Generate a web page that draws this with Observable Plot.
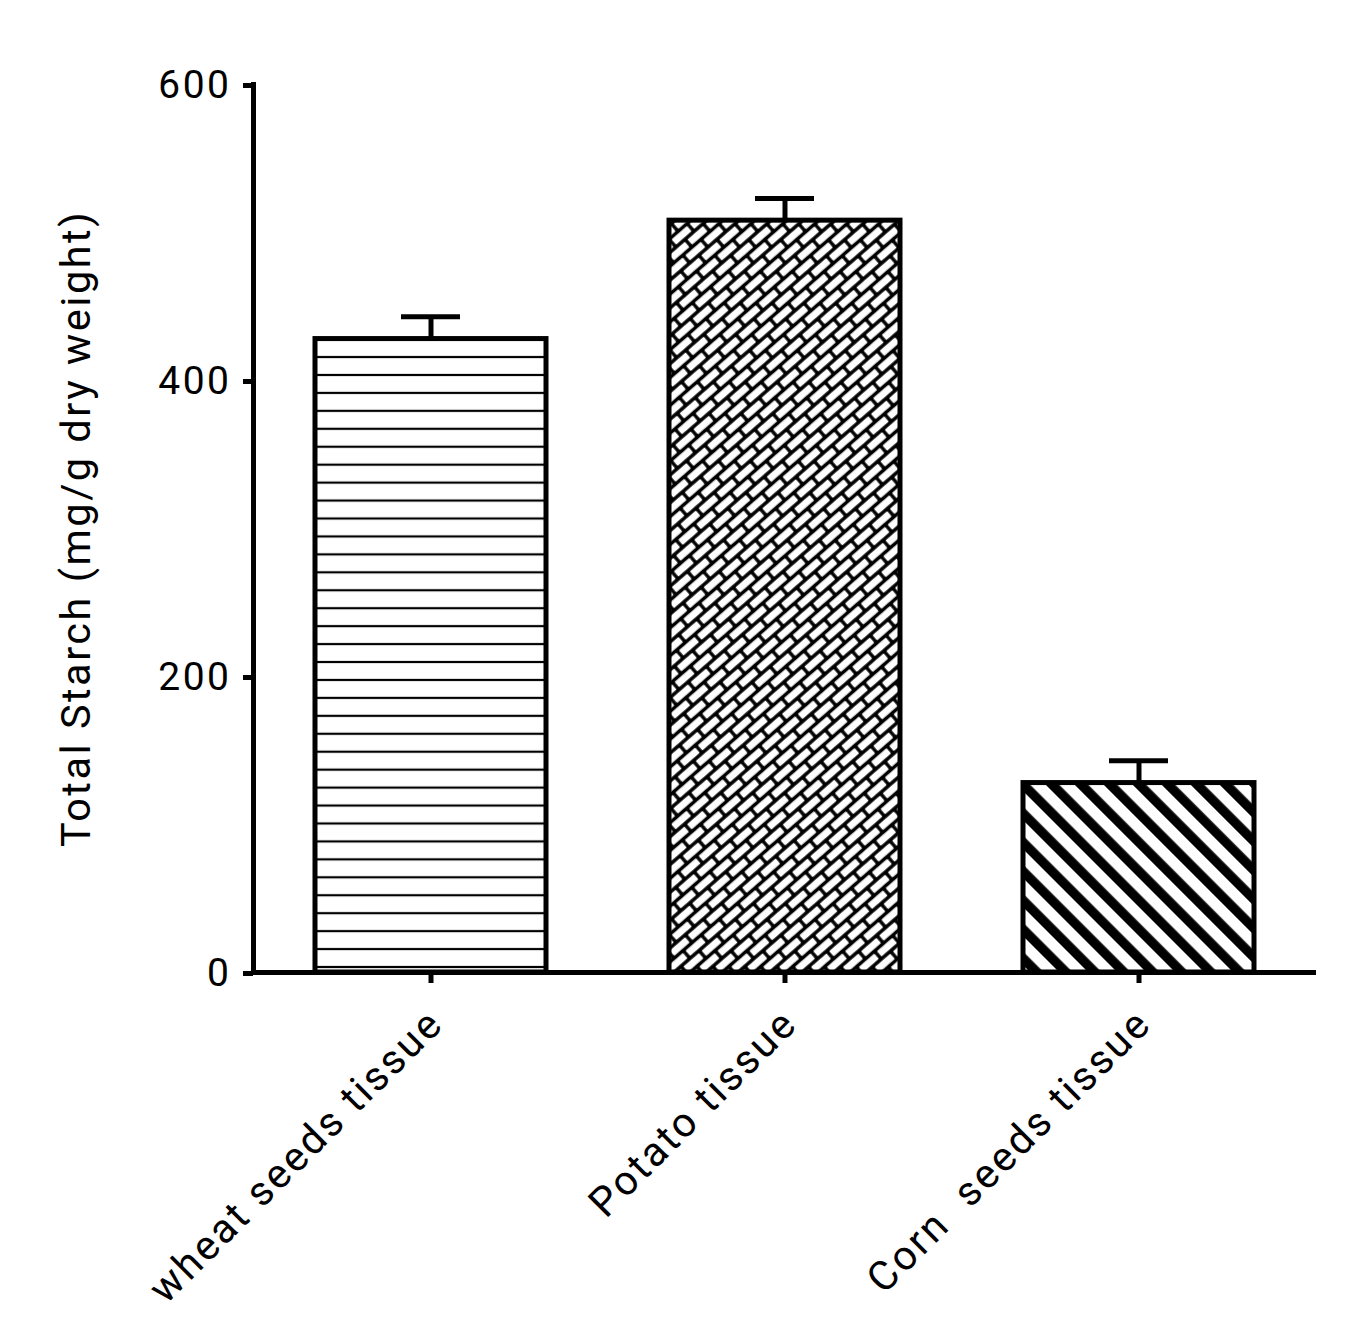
<!DOCTYPE html>
<html>
<head>
<meta charset="utf-8">
<script src="https://cdn.jsdelivr.net/npm/d3@7"></script>
<script src="https://cdn.jsdelivr.net/npm/@observablehq/plot@0.6"></script>
<style>
  body { margin: 0; background: #fff; }
</style>
</head>
<body>
<div id="chart"></div>
<script>
// ---- data ----
const categories = ["wheat seeds tissue", "Potato tissue", "Corn\u00a0 seeds tissue"];
const means = [428, 508, 128];
const errors = [15, 15, 15];
const patternIds = ["pat-hlines", "pat-bricks", "pat-diag"];
const yTicks = [0, 200, 400, 600];
const yLabel = "Total Starch (mg/g dry weight)";

const rows = categories.map((c, i) => ({
  cat: c, mean: means[i], err: errors[i], top: means[i] + errors[i], pat: `url(#${patternIds[i]})`
}));

const W = 1346, H = 1343;
const mL = 253, mR = 30, mT = 84, mB = 371;

const chart = Plot.plot({
  width: W,
  height: H,
  marginLeft: mL,
  marginRight: mR,
  marginTop: mT,
  marginBottom: mB,
  style: { fontFamily: "Roboto, sans-serif", letterSpacing: "2.5px", color: "#000", background: "#fff" },
  x: { type: "band", domain: categories, paddingInner: 0.3475, paddingOuter: 0.175, align: 0.5 },
  y: { domain: [0, 600] },
  marks: [
    Plot.barY(rows, { x: "cat", y: "mean", fill: "pat", stroke: "#000", strokeWidth: 5 }),
    Plot.ruleX(rows, { x: "cat", y1: "mean", y2: "top", stroke: "#000", strokeWidth: 5 }),
    Plot.tickY(rows, { x: "cat", y: "top", stroke: "#000", strokeWidth: 5, insetLeft: 86, insetRight: 86 }),
    Plot.frame({ anchor: "left", stroke: "#000", strokeWidth: 5 }),
    Plot.ruleY([0], { stroke: "#000", strokeWidth: 5 }),
    Plot.axisY({ ticks: yTicks, tickSize: 10, strokeWidth: 5, tickPadding: 12, fontSize: 39, label: null, dy: 1, tickFormat: d => String(d) }),
    Plot.axisX({ tickSize: 11, strokeWidth: 5, tickFormat: () => "", label: null }),
    Plot.text(categories, { x: d => d, y: () => 0, text: d => d, rotate: -45, textAnchor: "end", lineAnchor: "middle", fontSize: 41, dx: 5, dy: 44, fill: "#000" }),
    Plot.text([yLabel], { frameAnchor: "left", text: d => d, rotate: -90, textAnchor: "middle", lineAnchor: "middle", fontSize: 41.5, dx: -177, fill: "#000" })
  ]
});

// ---- fill patterns ----
const svg = d3.select(chart);
const defs = svg.insert("defs", ":first-child");

// horizontal lines (wheat)
const hStep = 17.94;
const y0px = mT + (H - mT - mB); // pixel of value 0
const ph = defs.append("pattern").attr("id", patternIds[0]).attr("patternUnits", "userSpaceOnUse")
  .attr("x", 0).attr("y", y0px - 5 - hStep / 2).attr("width", 20).attr("height", hStep);
ph.append("rect").attr("width", 20).attr("height", hStep).attr("fill", "#fff");
ph.append("rect").attr("y", hStep / 2 - 1.1).attr("width", 20).attr("height", 2.2).attr("fill", "#000");

// diagonal bricks (potato)
const bP = 24, bH = 10.5, g = 3.4;
const pb = defs.append("pattern").attr("id", patternIds[1]).attr("patternUnits", "userSpaceOnUse")
  .attr("width", bP).attr("height", 2 * bH).attr("patternTransform", "rotate(-41)");
pb.append("rect").attr("width", bP).attr("height", 2 * bH).attr("fill", "#000");
pb.append("rect").attr("x", g / 2).attr("y", g / 2).attr("width", bP - g).attr("height", bH - g).attr("rx", 1).attr("fill", "#fff");
pb.append("rect").attr("x", -bP / 2 + g / 2).attr("y", bH + g / 2).attr("width", bP - g).attr("height", bH - g).attr("rx", 1).attr("fill", "#fff");
pb.append("rect").attr("x", bP / 2 + g / 2).attr("y", bH + g / 2).attr("width", bP - g).attr("height", bH - g).attr("rx", 1).attr("fill", "#fff");

// diagonal stripes (corn)
const dP = 20.5;
const pd = defs.append("pattern").attr("id", patternIds[2]).attr("patternUnits", "userSpaceOnUse")
  .attr("width", dP).attr("height", dP).attr("patternTransform", "rotate(-45)");
pd.append("rect").attr("width", dP).attr("height", dP).attr("fill", "#fff");
pd.append("rect").attr("width", 9.5).attr("height", dP).attr("fill", "#000");

document.getElementById("chart").appendChild(chart);
</script>
</body>
</html>
